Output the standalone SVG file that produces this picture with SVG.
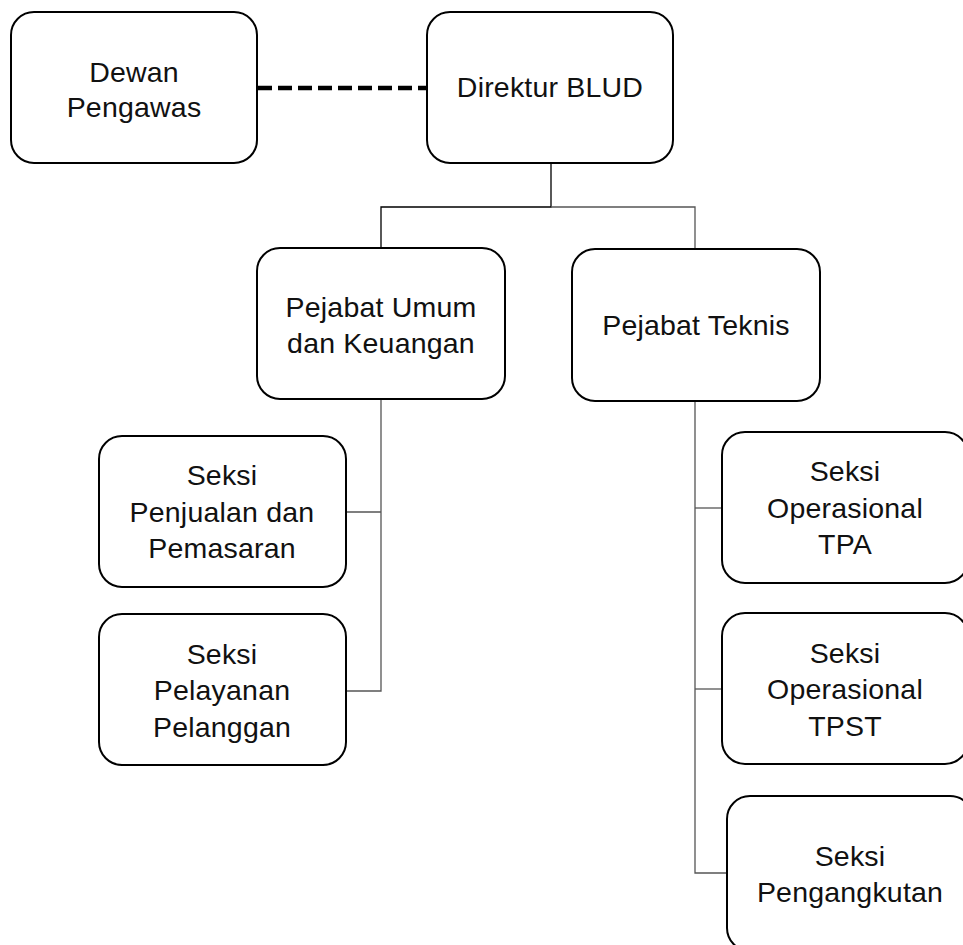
<svg xmlns="http://www.w3.org/2000/svg" width="963" height="945" viewBox="0 0 963 945">
<style>
.box{fill:#fff;stroke:#000;stroke-width:2}
.t{font-family:"Liberation Sans",Arial,sans-serif;font-size:28.5px;letter-spacing:0.2px;fill:#111;text-anchor:middle}
.c{fill:none;stroke:#555;stroke-width:1.3}
.ck{fill:none;stroke:#000;stroke-width:1.3}
.d{fill:none;stroke:#000;stroke-width:4.5;stroke-dasharray:14 6}
</style>
<rect width="963" height="945" fill="#fff"/>
<g id="connectors">
<line class="d" x1="258" y1="88" x2="427" y2="88"/>
<polyline class="ck" points="551,163 551,207 381,207 381,248"/>
<polyline class="c" points="551,207 695,207 695,249"/>
<polyline class="c" points="381,399 381,691 346,691"/>
<line class="c" x1="381" y1="512" x2="346" y2="512"/>
<polyline class="c" points="695,401 695,873 727,873"/>
<line class="c" x1="695" y1="508" x2="722" y2="508"/>
<line class="c" x1="695" y1="689" x2="722" y2="689"/>
</g>
<g id="dewan">
<rect class="box" x="11" y="12" width="246" height="151" rx="23"/>
<text class="t" x="134" y="82">Dewan</text>
<text class="t" x="134" y="117">Pengawas</text>
</g>
<g id="direktur">
<rect class="box" x="427" y="12" width="246" height="151" rx="23"/>
<text class="t" x="550" y="97">Direktur BLUD</text>
</g>
<g id="umum">
<rect class="box" x="257" y="248" width="248" height="151" rx="23"/>
<text class="t" x="381" y="317">Pejabat Umum</text>
<text class="t" x="381" y="353">dan Keuangan</text>
</g>
<g id="teknis">
<rect class="box" x="572" y="249" width="248" height="152" rx="23"/>
<text class="t" x="696" y="335">Pejabat Teknis</text>
</g>
<g id="penjualan">
<rect class="box" x="99" y="436" width="247" height="151" rx="23"/>
<text class="t" x="222" y="485">Seksi</text>
<text class="t" x="222" y="522">Penjualan dan</text>
<text class="t" x="222" y="558">Pemasaran</text>
</g>
<g id="pelayanan">
<rect class="box" x="99" y="614" width="247" height="151" rx="23"/>
<text class="t" x="222" y="664">Seksi</text>
<text class="t" x="222" y="700">Pelayanan</text>
<text class="t" x="222" y="737">Pelanggan</text>
</g>
<g id="tpa">
<rect class="box" x="722" y="432" width="246" height="151" rx="23"/>
<text class="t" x="845" y="481">Seksi</text>
<text class="t" x="845" y="518">Operasional</text>
<text class="t" x="845" y="554">TPA</text>
</g>
<g id="tpst">
<rect class="box" x="722" y="613" width="246" height="151" rx="23"/>
<text class="t" x="845" y="663">Seksi</text>
<text class="t" x="845" y="699">Operasional</text>
<text class="t" x="845" y="736">TPST</text>
</g>
<g id="pengangkutan">
<rect class="box" x="727" y="796" width="246" height="155" rx="23"/>
<text class="t" x="850" y="866">Seksi</text>
<text class="t" x="850" y="902">Pengangkutan</text>
</g>
</svg>
